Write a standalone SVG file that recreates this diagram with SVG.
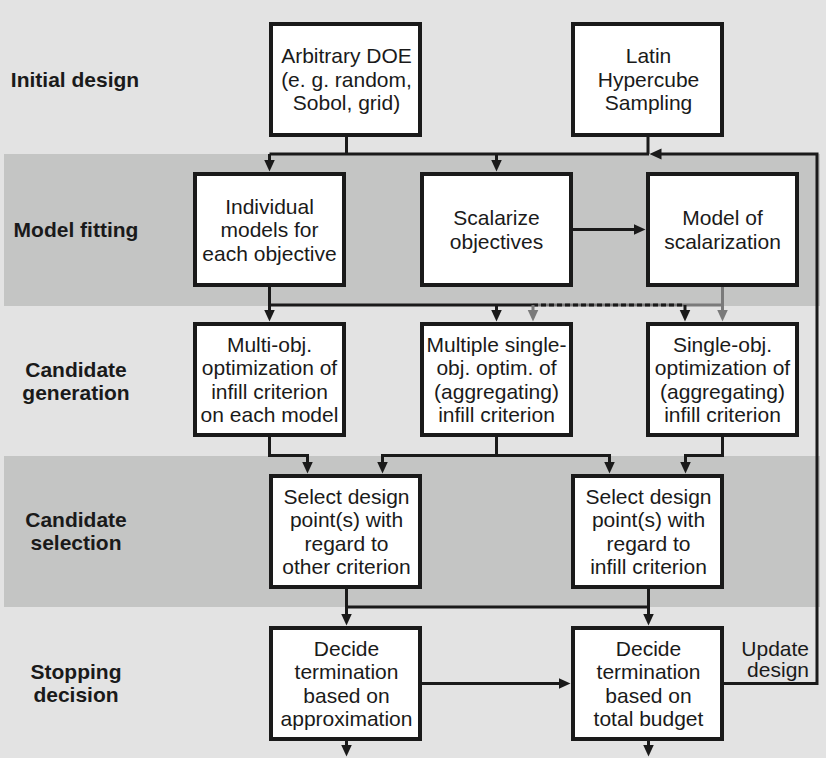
<svg xmlns="http://www.w3.org/2000/svg" width="826" height="758" viewBox="0 0 826 758">
<style>
.band-l{fill:#e3e3e3}
.band-d{fill:#c4c5c4}
.box{fill:#ffffff;stroke:#1a1a1a;stroke-width:4}
.t{font-family:"Liberation Sans",Arial,sans-serif;font-size:21px;fill:#1a1a1a;text-anchor:middle}
.lab{font-family:"Liberation Sans",Arial,sans-serif;font-size:21px;font-weight:bold;fill:#1a1a1a;text-anchor:middle}
.c{fill:none;stroke:#1a1a1a;stroke-width:3}
.cg{fill:none;stroke:#7a7a7a;stroke-width:3}
</style>
<defs>
<marker id="ah" viewBox="0 0 12 12" markerWidth="12" markerHeight="12" markerUnits="userSpaceOnUse" refX="0.5" refY="6" orient="auto"><path d="M0,0.5 L12,6 L0,11.5 z" fill="#1a1a1a"/></marker>
<marker id="ahg" viewBox="0 0 12 12" markerWidth="12" markerHeight="12" markerUnits="userSpaceOnUse" refX="0.5" refY="6" orient="auto"><path d="M0,0.5 L12,6 L0,11.5 z" fill="#7a7a7a"/></marker>
</defs>
<rect x="0" y="0" width="826" height="758" class="band-l"/>
<rect x="4" y="154" width="816" height="152" class="band-d"/>
<rect x="4" y="456" width="816" height="151" class="band-d"/>

<g id="labels">
<text class="lab" x="75" y="87">Initial design</text>
<text class="lab" x="76" y="237">Model fitting</text>
<text class="lab" x="76" y="377">Candidate</text>
<text class="lab" x="76" y="400">generation</text>
<text class="lab" x="76" y="527">Candidate</text>
<text class="lab" x="76" y="550">selection</text>
<text class="lab" x="76" y="679">Stopping</text>
<text class="lab" x="76" y="702">decision</text>
</g>

<g id="connectors">
<path class="c" d="M346.5,136 V154 M648,136 V154"/>
<path class="c" d="M269.5,154 H649"/>
<path class="c" d="M269.5,154 V160" marker-end="url(#ah)"/>
<path class="c" d="M496.5,154 V160" marker-end="url(#ah)"/>
<path class="c" d="M573,229.5 H634" marker-end="url(#ah)"/>
<path class="c" d="M269.5,287 V305 H533"/>
<path class="cg" d="M722.5,287 V305 H533"/>
<path class="c" d="M533,305 H685" stroke-dasharray="5 3"/>
<path class="c" d="M269.5,305 V310" marker-end="url(#ah)"/>
<path class="c" d="M496.5,305 V310" marker-end="url(#ah)"/>
<path class="c" d="M685,305 V310" marker-end="url(#ah)"/>
<path class="cg" d="M533,305 V310" marker-end="url(#ahg)"/>
<path class="cg" d="M722.5,305 V310" marker-end="url(#ahg)"/>
<path class="c" d="M269.5,437 V455.5 H307.5 V462" marker-end="url(#ah)"/>
<path class="c" d="M496.5,437 V455.5"/>
<path class="c" d="M382.5,462 V455.5 H609.5 V462"/>
<path class="c" d="M382.5,455.5 V462" marker-end="url(#ah)"/>
<path class="c" d="M609.5,455.5 V462" marker-end="url(#ah)"/>
<path class="c" d="M722.5,437 V455.5 H685.5 V462" marker-end="url(#ah)"/>
<path class="c" d="M346.5,589 V607 H648.5 V589"/>
<path class="c" d="M346.5,607 V614" marker-end="url(#ah)"/>
<path class="c" d="M648.5,607 V614" marker-end="url(#ah)"/>
<path class="c" d="M422,683.5 H559" marker-end="url(#ah)"/>
<path class="c" d="M724,683.5 H817 V154 H661" marker-end="url(#ah)"/>
<path class="c" d="M346.5,741 V745" marker-end="url(#ah)"/>
<path class="c" d="M648.5,741 V745" marker-end="url(#ah)"/>
<text class="t" x="809" y="656" style="text-anchor:end">Update</text>
<text class="t" x="809" y="677" style="text-anchor:end">design</text>
</g>

<g id="doe">
<rect class="box" x="271" y="24" width="149" height="111"/>
<text class="t" x="346.5" y="63">Arbitrary DOE</text>
<text class="t" x="346.5" y="86.5">(e. g. random,</text>
<text class="t" x="346.5" y="110">Sobol, grid)</text>
</g>
<g id="lhs">
<rect class="box" x="573" y="24" width="149" height="111"/>
<text class="t" x="648.5" y="63">Latin</text>
<text class="t" x="648.5" y="86.5">Hypercube</text>
<text class="t" x="648.5" y="110">Sampling</text>
</g>

<g id="individual">
<rect class="box" x="195" y="174" width="149" height="111"/>
<text class="t" x="269.5" y="213.5">Individual</text>
<text class="t" x="269.5" y="237">models for</text>
<text class="t" x="269.5" y="260.5">each objective</text>
</g>
<g id="scalarize">
<rect class="box" x="422" y="174" width="149" height="111"/>
<text class="t" x="496.5" y="225.25">Scalarize</text>
<text class="t" x="496.5" y="248.75">objectives</text>
</g>
<g id="modelscal">
<rect class="box" x="648" y="174" width="149" height="111"/>
<text class="t" x="722.5" y="225.25">Model of</text>
<text class="t" x="722.5" y="248.75">scalarization</text>
</g>

<g id="multiobj">
<rect class="box" x="195" y="324" width="149" height="111"/>
<text class="t" x="269.5" y="351.75">Multi-obj.</text>
<text class="t" x="269.5" y="375.25">optimization of</text>
<text class="t" x="269.5" y="398.75">infill criterion</text>
<text class="t" x="269.5" y="422.25">on each model</text>
</g>
<g id="multisingle">
<rect class="box" x="422" y="324" width="149" height="111"/>
<text class="t" x="496.5" y="351.75">Multiple single-</text>
<text class="t" x="496.5" y="375.25">obj. optim. of</text>
<text class="t" x="496.5" y="398.75">(aggregating)</text>
<text class="t" x="496.5" y="422.25">infill criterion</text>
</g>
<g id="singleobj">
<rect class="box" x="648" y="324" width="149" height="111"/>
<text class="t" x="722.5" y="351.75">Single-obj.</text>
<text class="t" x="722.5" y="375.25">optimization of</text>
<text class="t" x="722.5" y="398.75">(aggregating)</text>
<text class="t" x="722.5" y="422.25">infill criterion</text>
</g>

<g id="selother">
<rect class="box" x="271" y="476" width="149" height="111"/>
<text class="t" x="346.5" y="503.75">Select design</text>
<text class="t" x="346.5" y="527.25">point(s) with</text>
<text class="t" x="346.5" y="550.75">regard to</text>
<text class="t" x="346.5" y="574.25">other criterion</text>
</g>
<g id="selinfill">
<rect class="box" x="573" y="476" width="149" height="111"/>
<text class="t" x="648.5" y="503.75">Select design</text>
<text class="t" x="648.5" y="527.25">point(s) with</text>
<text class="t" x="648.5" y="550.75">regard to</text>
<text class="t" x="648.5" y="574.25">infill criterion</text>
</g>

<g id="decapprox">
<rect class="box" x="271" y="628" width="149" height="111"/>
<text class="t" x="346.5" y="655.75">Decide</text>
<text class="t" x="346.5" y="679.25">termination</text>
<text class="t" x="346.5" y="702.75">based on</text>
<text class="t" x="346.5" y="726.25">approximation</text>
</g>
<g id="decbudget">
<rect class="box" x="573" y="628" width="149" height="111"/>
<text class="t" x="648.5" y="655.75">Decide</text>
<text class="t" x="648.5" y="679.25">termination</text>
<text class="t" x="648.5" y="702.75">based on</text>
<text class="t" x="648.5" y="726.25">total budget</text>
</g>
</svg>
